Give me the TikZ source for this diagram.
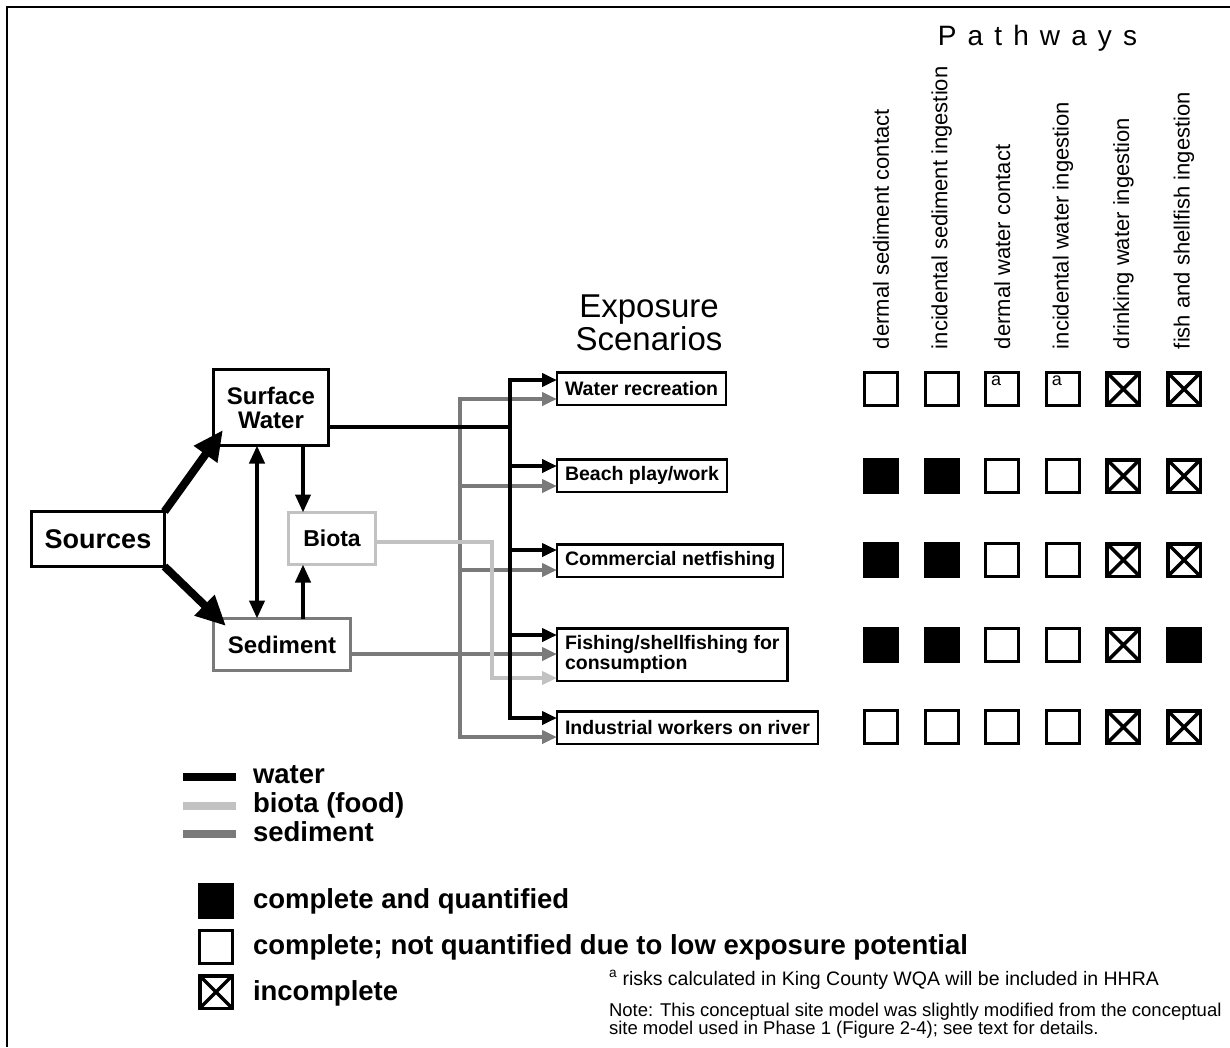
\documentclass[tikz,border=0pt]{standalone}
\usepackage{fontspec}
\setmainfont{Liberation Sans}
\usetikzlibrary{arrows.meta}
\definecolor{sedgray}{HTML}{7A7A7A}
\definecolor{biogray}{HTML}{C2C2C2}
\newcommand\setfs[2]{\fontsize{#1}{#2}\selectfont}

\begin{document}
\begin{tikzpicture}[x=1pt,y=-1pt,
  every node/.style={inner sep=0pt, outer sep=0pt},
  mediabox/.style={draw, line width=3pt, align=center, font=\bfseries\setfs{24}{24}},
  scen/.style={draw, line width=2.5pt, anchor=west, inner xsep=8pt,
    minimum height=32.5pt, align=left, font=\bfseries\setfs{19.5}{20}},
  tipS/.tip={Triangle[length=15pt,width=13pt]},
  tipM/.tip={Triangle[length=18pt,width=15pt]},
  tipL/.tip={Triangle[length=30pt,width=27pt]},
  wline/.style={draw=black, line width=4pt},
  warr/.style={wline, -tipS},
  sarr/.style={draw=sedgray, line width=4pt, -tipS},
  barr/.style={draw=biogray, line width=4pt, -tipS},
  flowarr/.style={draw=black, line width=4pt, -tipM},
  dblarr/.style={draw=black, line width=4pt, tipM-tipM},
  bigarr/.style={draw=black, line width=8pt, -tipL},
  cellO/.style={draw, line width=3pt, minimum size=33pt},
  cellA/.style={cellO, label={[font=\setfs{18}{18}, inner sep=0pt,
    anchor=north west, xshift=5.5pt, yshift=-3.5pt]north west:a}},
  cellF/.style={fill=black, minimum size=36pt},
  cellX/.style={draw, line width=3.5pt, minimum size=32.5pt,
    path picture={\draw[line width=3.5pt]
      (path picture bounding box.south west) -- (path picture bounding box.north east)
      (path picture bounding box.north west) -- (path picture bounding box.south east);}},
  plabel/.style={rotate=90, anchor=west, font=\setfs{22}{22}},
  legtxt/.style={anchor=base west, font=\bfseries\setfs{27.5}{28}},
  legline/.style={line width=8pt}
]
\useasboundingbox (0,0) rectangle (1230,1047);

% frame
\draw[line width=2.5pt] (7,1047) -- (7,7) -- (1230,7);

% media
\node[mediabox, minimum width=133pt, minimum height=55pt,
  font=\bfseries\setfs{27}{27}] (src) at (98,539) {Sources};
\node[mediabox, minimum width=115pt, minimum height=76pt] (sw) at (271,407.5) {Surface\\Water};
\node[mediabox, draw=sedgray, minimum width=137pt, minimum height=52pt] (sed) at (282,644.5) {Sediment};
\node[mediabox, draw=biogray, minimum width=87pt, minimum height=52pt,
  font=\bfseries\setfs{23}{23}] (bio) at (332,538.5) {Biota};

% transfer between media
\coordinate (swtip) at (223,430);
\coordinate (sedtip) at (226,626);
\draw[bigarr] (src.north east) -- (swtip);
\draw[bigarr] (src.south east) -- (sedtip);
\coordinate (vx) at (257,0);
\coordinate (bx) at (303,0);
\draw[dblarr] (sw.south -| vx) -- (sed.north -| vx);
\draw[flowarr] (sw.south -| bx) -- (bio.north -| bx);
\draw[flowarr] (sed.north -| bx) -- (bio.south -| bx);

% exposure scenarios
\node[font=\setfs{33}{33}, anchor=base] (exA) at (649,317) {Exposure};
\node[font=\setfs{33}{33}, anchor=base] (exB) at (649,350) {Scenarios};
\node[scen] (s1) at (557,388.5) {Water recreation};
\node[scen] (s2) at (557,475.5) {Beach play/work};
\node[scen] (s3) at (557,560.5) {Commercial netfishing};
\node[scen, minimum height=52.5pt] (s4) at (557,654.5) {Fishing/shellfishing for\\consumption};
\node[scen] (s5) at (557,727.5) {Industrial workers on river};

% sediment routes
\coordinate (g1) at (460,399);
\coordinate (g2) at (460,486);
\coordinate (g3) at (460,570);
\coordinate (g4) at (460,654);
\coordinate (g5) at (460,737);
\draw[sarr] (g5) -- (g1) -- (g1 -| s1.west);
\draw[sarr] (g1) -- (g5) -- (g5 -| s5.west);
\draw[sarr] (g2) -- (g2 -| s2.west);
\draw[sarr] (g3) -- (g3 -| s3.west);
\draw[sarr] (sed.east |- g4) -- (g4 -| s4.west);

% biota route
\coordinate (b1) at (492,542);
\coordinate (b2) at (492,678);
\draw[barr] (bio.east |- b1) -- (b1) -- (b2) -- (b2 -| s4.west);

% water routes
\coordinate (wj) at (510,427);
\coordinate (w1) at (510,380);
\coordinate (w2) at (510,466);
\coordinate (w3) at (510,550);
\coordinate (w4) at (510,635);
\coordinate (w5) at (510,718);
\draw[wline] (sw.east |- wj) -- (wj);
\draw[warr] (w5) -- (w1) -- (w1 -| s1.west);
\draw[warr] (w1) -- (w5) -- (w5 -| s5.west);
\draw[warr] (w2) -- (w2 -| s2.west);
\draw[warr] (w3) -- (w3 -| s3.west);
\draw[warr] (w4) -- (w4 -| s4.west);

% pathways
\node[font=\setfs{28}{28}, anchor=base] (pw) at (1037.5,45)
  {P\kern11.1pt a\kern11.1pt t\kern11.1pt h\kern11.1pt w\kern11.1pt a\kern11.1pt y\kern11.1pt s};
\foreach \name [count=\col] in {dermal sediment contact, incidental sediment ingestion,
  dermal water contact, incidental water ingestion, drinking water ingestion,
  fish and shellfish ingestion}
  \node[plabel] (p\col) at ({881+60.6*(\col-1)},349) {\name};

\foreach \row/\yy/\types in {1/389/{O,O,A,A,X,X}, 2/476/{F,F,O,O,X,X},
  3/560/{F,F,O,O,X,X}, 4/645/{F,F,O,O,X,F}, 5/727/{O,O,O,O,X,X}}{
  \foreach \t [count=\col] in \types {
    \node[cell\t] (m\row\col) at ({881+60.6*(\col-1)},\yy) {};
  }
}

% legend
\draw[legline, black] (183,777) -- (236,777);
\draw[legline, biogray] (183,806) -- (236,806);
\draw[legline, sedgray] (183,834) -- (236,834);
\node[legtxt] (lw) at (253,783) {water};
\node[legtxt] (lb) at (253,812) {biota (food)};
\node[legtxt] (ls) at (253,841) {sediment};

\node[cellF] (kf) at (216,901) {};
\node[cellO] (ko) at (216,946.5) {};
\node[cellX] (kx) at (216,992) {};
\node[legtxt] (tf) at (253,908) {complete and quantified};
\node[legtxt] (to) at (253,954) {complete; not quantified due to low exposure potential};
\node[legtxt] (tx) at (253,1000) {incomplete};

% notes
\node[anchor=base west, font=\setfs{19.5}{19.5}] (fn) at (609,985)
  {\textsuperscript{a} risks calculated in King County WQA will be included in HHRA};
\node[anchor=base west, font=\setfs{18.5}{18}] (nt1) at (609,1016)
  {Note: This conceptual site model was slightly modified from the conceptual};
\node[anchor=base west, font=\setfs{18.5}{18}] (nt2) at (609,1034)
  {site model used in Phase 1 (Figure 2-4); see text for details.};
\end{tikzpicture}
\end{document}
